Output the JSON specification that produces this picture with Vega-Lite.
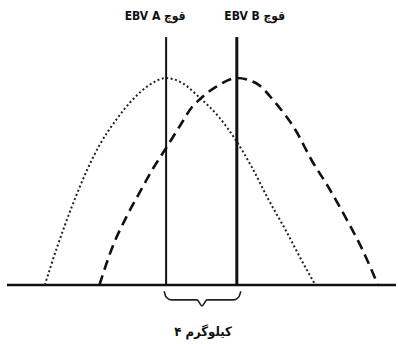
{
  "$schema": "https://vega.github.io/schema/vega-lite/v6.json",
  "width": 398,
  "height": 344,
  "autosize": {"type": "fit", "contains": "padding"},
  "padding": 0,
  "background": "white",
  "config": {"view": {"stroke": null}},
  "datasets": {
    "curves": [
      {"series": "A", "kg": 12.97, "freq": 0},
      {"series": "A", "kg": 13.71, "freq": 0.19},
      {"series": "A", "kg": 14.51, "freq": 0.375},
      {"series": "A", "kg": 15.37, "freq": 0.55},
      {"series": "A", "kg": 16.11, "freq": 0.675},
      {"series": "A", "kg": 17.09, "freq": 0.8},
      {"series": "A", "kg": 18.0, "freq": 0.894},
      {"series": "A", "kg": 18.97, "freq": 0.966},
      {"series": "A", "kg": 19.94, "freq": 1.0},
      {"series": "A", "kg": 20.86, "freq": 0.976},
      {"series": "A", "kg": 21.83, "freq": 0.908},
      {"series": "A", "kg": 22.97, "freq": 0.812},
      {"series": "A", "kg": 23.94, "freq": 0.7},
      {"series": "A", "kg": 24.86, "freq": 0.57},
      {"series": "A", "kg": 25.83, "freq": 0.411},
      {"series": "A", "kg": 26.8, "freq": 0.266},
      {"series": "A", "kg": 27.71, "freq": 0.121},
      {"series": "A", "kg": 28.51, "freq": 0},
      {"series": "B", "kg": 16.11, "freq": 0},
      {"series": "B", "kg": 16.86, "freq": 0.184},
      {"series": "B", "kg": 17.66, "freq": 0.329},
      {"series": "B", "kg": 18.4, "freq": 0.444},
      {"series": "B", "kg": 19.14, "freq": 0.556},
      {"series": "B", "kg": 19.94, "freq": 0.662},
      {"series": "B", "kg": 20.69, "freq": 0.763},
      {"series": "B", "kg": 21.43, "freq": 0.86},
      {"series": "B", "kg": 21.83, "freq": 0.894},
      {"series": "B", "kg": 22.8, "freq": 0.957},
      {"series": "B", "kg": 24.0, "freq": 1.0},
      {"series": "B", "kg": 25.09, "freq": 0.976},
      {"series": "B", "kg": 26.23, "freq": 0.879},
      {"series": "B", "kg": 27.37, "freq": 0.749},
      {"series": "B", "kg": 28.29, "freq": 0.604},
      {"series": "B", "kg": 29.26, "freq": 0.473},
      {"series": "B", "kg": 30.23, "freq": 0.329},
      {"series": "B", "kg": 31.14, "freq": 0.184},
      {"series": "B", "kg": 32.11, "freq": 0}
    ],
    "ebv": [
      {"name": "A", "kg": 19.94, "freq": 0, "top": 1.198, "w": 2},
      {"name": "B", "kg": 24.0, "freq": 0, "top": 1.198, "w": 3}
    ],
    "baseline": [
      {"kg": 10.8, "kg2": 33.143, "freq": 0}
    ],
    "labels": [
      {"text": "EBV A قوچ", "kg": 19.31, "freq": 1.3, "size": 12},
      {"text": "EBV B قوچ", "kg": 25.03, "freq": 1.3, "size": 12},
      {"text": "کیلوگرم ۴", "kg": 22.06, "freq": -0.227, "size": 13}
    ],
    "brace": [
      {"o": 1, "kg": 19.83, "freq": -0.03},
      {"o": 2, "kg": 19.94, "freq": -0.058},
      {"o": 3, "kg": 20.23, "freq": -0.072},
      {"o": 4, "kg": 21.71, "freq": -0.072},
      {"o": 5, "kg": 22.0, "freq": -0.101},
      {"o": 6, "kg": 22.29, "freq": -0.072},
      {"o": 7, "kg": 23.83, "freq": -0.072},
      {"o": 8, "kg": 24.11, "freq": -0.058},
      {"o": 9, "kg": 24.23, "freq": -0.03}
    ]
  },
  "encoding": {
    "x": {"field": "kg", "type": "quantitative", "axis": null, "scale": {"domain": [10.4, 33.143], "nice": false, "zero": false}},
    "y": {"field": "freq", "type": "quantitative", "axis": null, "scale": {"domain": [-0.285, 1.377], "nice": false, "zero": false}}
  },
  "layer": [
    {
      "data": {"name": "baseline"},
      "mark": {"type": "rule", "color": "#111", "strokeWidth": 2.5},
      "encoding": {"x2": {"field": "kg2"}}
    },
    {
      "data": {"name": "curves"},
      "transform": [{"filter": "datum.series === 'A'"}],
      "mark": {"type": "line", "color": "#222", "strokeWidth": 2, "strokeDash": [2, 2.5], "interpolate": "monotone"}
    },
    {
      "data": {"name": "curves"},
      "transform": [{"filter": "datum.series === 'B'"}],
      "mark": {"type": "line", "color": "#111", "strokeWidth": 2.6, "strokeDash": [10, 6], "interpolate": "monotone"}
    },
    {
      "data": {"name": "ebv"},
      "mark": {"type": "rule", "color": "#111"},
      "encoding": {"y2": {"field": "top"}, "strokeWidth": {"field": "w", "type": "quantitative", "scale": null}}
    },
    {
      "data": {"name": "brace"},
      "mark": {"type": "line", "color": "#222", "strokeWidth": 1.6, "interpolate": "monotone"},
      "encoding": {"order": {"field": "o"}}
    },
    {
      "data": {"name": "labels"},
      "mark": {"type": "text", "font": "DejaVu Sans Condensed", "fontWeight": "bold", "color": "#111", "align": "center", "baseline": "middle"},
      "encoding": {"text": {"field": "text"}, "size": {"field": "size", "type": "quantitative", "scale": null}}
    }
  ]
}
